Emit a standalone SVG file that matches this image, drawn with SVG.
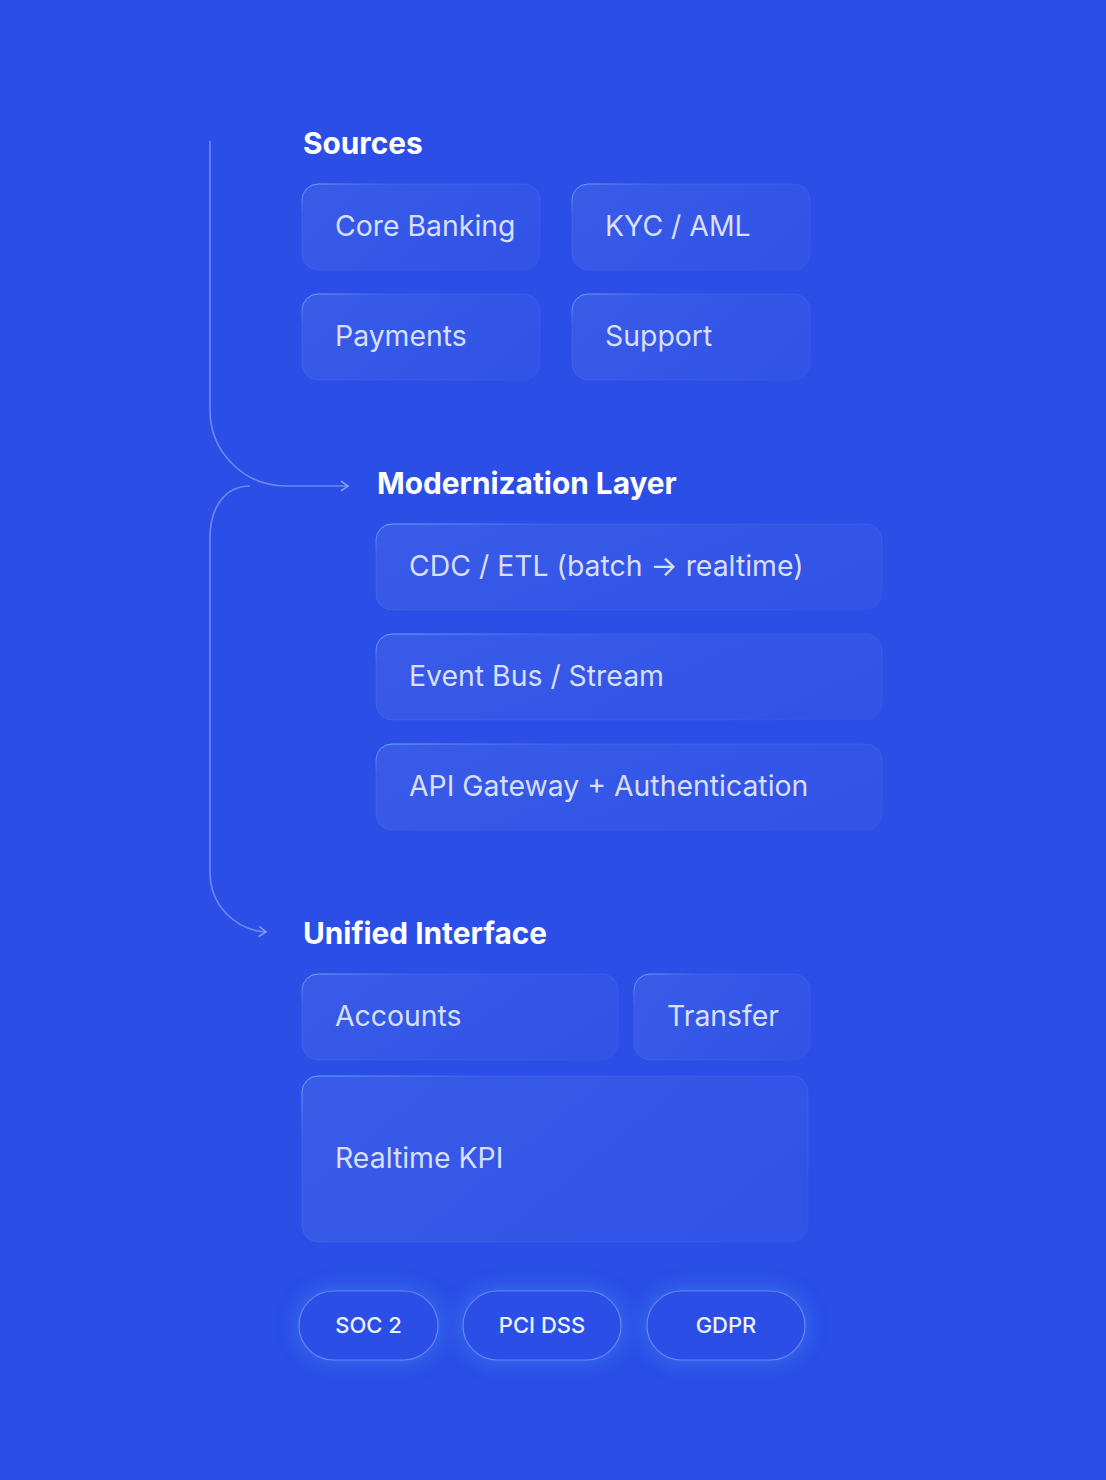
<svg xmlns="http://www.w3.org/2000/svg" width="1106" height="1480" viewBox="0 0 1106 1480">
<defs>
<style>
.h{font-family:Inter,"Open Sans","Liberation Sans",sans-serif;font-weight:700;font-size:29.8px;fill:#ffffff}
.t{font-family:Inter,"Open Sans","Liberation Sans",sans-serif;font-weight:400;font-size:28.4px;fill:#d8dfff}
.p{font-family:Inter,"Open Sans","Liberation Sans",sans-serif;font-weight:500;font-size:22px;fill:#eef1ff;text-anchor:middle}
.box{fill:url(#bf);stroke:url(#bs);stroke-width:1}
.pill{fill:#2b4fe6;stroke:rgba(170,190,255,0.45);stroke-width:1.2}
.ln{fill:none;stroke:rgba(165,185,255,0.55);stroke-width:1.6}
</style>
<linearGradient id="bf" x1="0" y1="0" x2="1" y2="0.4">
<stop offset="0" stop-color="#ffffff" stop-opacity="0.075"/>
<stop offset="1" stop-color="#ffffff" stop-opacity="0.035"/>
</linearGradient>
<linearGradient id="bs" x1="0" y1="0" x2="1" y2="1">
<stop offset="0" stop-color="#6fc4ff" stop-opacity="0.85"/>
<stop offset="0.18" stop-color="#9fb6ff" stop-opacity="0.12"/>
<stop offset="1" stop-color="#ffffff" stop-opacity="0.02"/>
</linearGradient>
<filter id="glow" x="-50%" y="-80%" width="200%" height="260%">
<feGaussianBlur stdDeviation="11"/>
</filter>
<marker id="ah" viewBox="0 0 12 12" refX="10" refY="6" markerWidth="12" markerHeight="12" markerUnits="userSpaceOnUse" orient="auto">
<path d="M3 1 L10 6 L3 11" fill="none" stroke="rgba(165,185,255,0.7)" stroke-width="1.6"/>
</marker>
</defs>
<rect width="1106" height="1480" fill="#2a4ee6"/>

<g id="connectors">
<path class="ln" d="M210 141 V410 C210 452 244 486 286 486 H348" marker-end="url(#ah)"/>
<path class="ln" d="M250 486 C226 486 210 506 210 538 V872 C210 906 236 930 266 932" marker-end="url(#ah)"/>
</g>

<g id="sources">
<text class="h" x="303" y="154">Sources</text>
<g id="core-banking"><rect class="box" x="302" y="184" width="238" height="86" rx="16"/><text class="t" x="335" y="236">Core Banking</text></g>
<g id="kyc-aml"><rect class="box" x="572" y="184" width="238" height="86" rx="16"/><text class="t" x="605" y="236">KYC / AML</text></g>
<g id="payments"><rect class="box" x="302" y="294" width="238" height="86" rx="16"/><text class="t" x="335" y="346">Payments</text></g>
<g id="support"><rect class="box" x="572" y="294" width="238" height="86" rx="16"/><text class="t" x="605" y="346">Support</text></g>
</g>

<g id="modernization">
<text class="h" x="377" y="494">Modernization Layer</text>
<g id="cdc-etl"><rect class="box" x="376" y="524" width="506" height="86" rx="16"/><text class="t" x="409" y="576">CDC / ETL (batch → realtime)</text></g>
<g id="event-bus"><rect class="box" x="376" y="634" width="506" height="86" rx="16"/><text class="t" x="409" y="686">Event Bus / Stream</text></g>
<g id="api-gateway"><rect class="box" x="376" y="744" width="506" height="86" rx="16"/><text class="t" x="409" y="796">API Gateway + Authentication</text></g>
</g>

<g id="unified">
<text class="h" x="303" y="944">Unified Interface</text>
<g id="accounts"><rect class="box" x="302" y="974" width="316" height="86" rx="16"/><text class="t" x="335" y="1026">Accounts</text></g>
<g id="transfer"><rect class="box" x="634" y="974" width="176" height="86" rx="16"/><text class="t" x="667" y="1026">Transfer</text></g>
<g id="realtime-kpi"><rect class="box" x="302" y="1076" width="506" height="166" rx="16"/><text class="t" x="335" y="1168">Realtime KPI</text></g>
</g>

<g id="compliance">
<g filter="url(#glow)" fill="#3f86f2" opacity="0.7">
<rect x="299" y="1291" width="139" height="69" rx="34.5"/>
<rect x="463" y="1291" width="158" height="69" rx="34.5"/>
<rect x="647" y="1291" width="158" height="69" rx="34.5"/>
</g>
<g id="soc2"><rect class="pill" x="299" y="1291" width="139" height="69" rx="34.5"/><text class="p" x="368.5" y="1333">SOC 2</text></g>
<g id="pci-dss"><rect class="pill" x="463" y="1291" width="158" height="69" rx="34.5"/><text class="p" x="542" y="1333">PCI DSS</text></g>
<g id="gdpr"><rect class="pill" x="647" y="1291" width="158" height="69" rx="34.5"/><text class="p" x="726" y="1333">GDPR</text></g>
</g>
</svg>
